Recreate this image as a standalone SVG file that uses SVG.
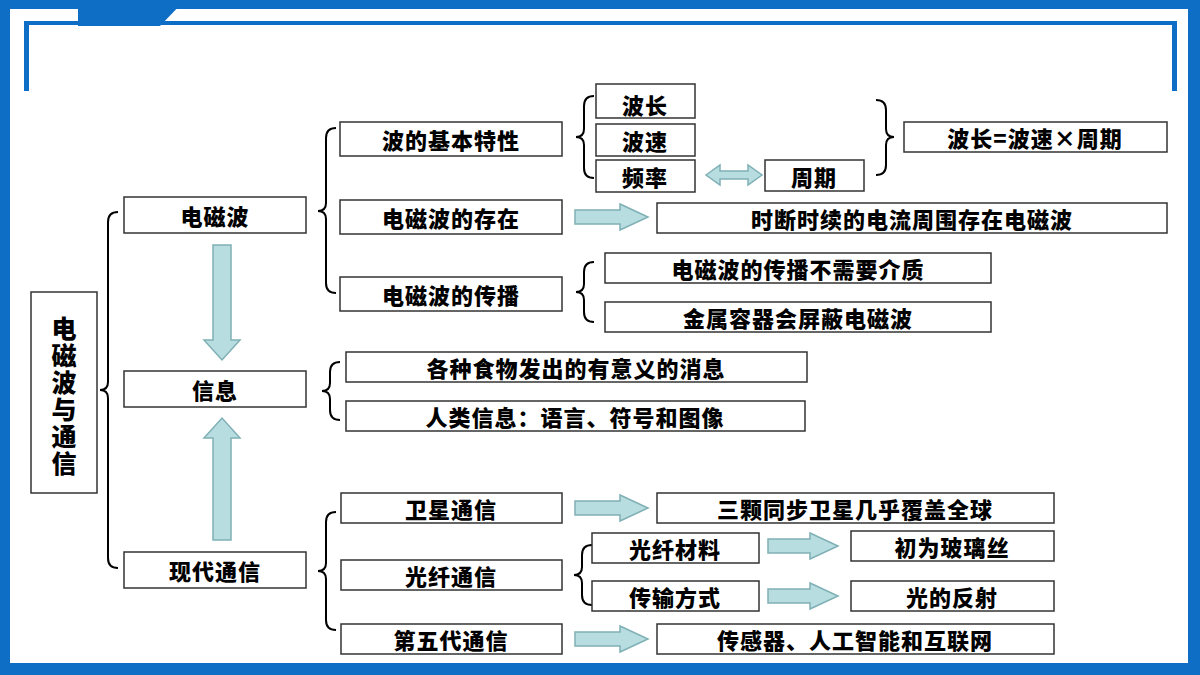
<svg xmlns="http://www.w3.org/2000/svg" width="1200" height="675" viewBox="0 0 1200 675">
<style>
.b{fill:#fff;stroke:#333;stroke-width:1.5}
.t{font-family:"Noto Sans CJK SC","Liberation Sans",sans-serif;font-weight:900;font-size:22px;letter-spacing:1px;fill:#000;text-anchor:middle;dominant-baseline:central}
.v{font-size:25px;letter-spacing:0}
.br{fill:none;stroke:#000;stroke-width:2}
.ar{fill:#b8dde0;stroke:#7fb0b5;stroke-width:1.5}
</style>
<rect width="1200" height="675" fill="#fff"/>
<g id="frame" fill="#0e6ec6">
<rect x="0" y="0" width="1200" height="9"/>
<rect x="0" y="0" width="10" height="675"/>
<rect x="1188" y="0" width="12" height="675"/>
<rect x="0" y="663" width="1200" height="12"/>
<rect x="24" y="21" width="1152" height="4"/>
<rect x="24" y="21" width="5" height="70"/>
<rect x="1172" y="21" width="5" height="70"/>
<path d="M78 0 H185 L160 26 H78 Z"/>
</g>
<g id="connectors">
<path class="br" d="M118 212 Q108 212 108 222 L108 382 Q108 390 100 390 Q108 390 108 398 L108 558 Q108 568 118 568"/>
<path class="br" d="M336 128 Q326 128 326 138 L326 203 Q326 211 318 211 Q326 211 326 219 L326 283 Q326 293 336 293"/>
<path class="br" d="M594 96 Q584 96 584 106 L584 129 Q584 137 576 137 Q584 137 584 145 L584 168 Q584 178 594 178"/>
<path class="br" d="M876 100 Q886 100 886 110 L886 129 Q886 137 894 137 Q886 137 886 145 L886 165 Q886 175 876 175"/>
<path class="br" d="M594 262 Q584 262 584 272 L584 284 Q584 292 576 292 Q584 292 584 300 L584 312 Q584 322 594 322"/>
<path class="br" d="M340 362 Q330 362 330 372 L330 383 Q330 391 322 391 Q330 391 330 399 L330 410 Q330 420 340 420"/>
<path class="br" d="M336 512 Q326 512 326 522 L326 563 Q326 571 318 571 Q326 571 326 579 L326 620 Q326 630 336 630"/>
<path class="br" d="M592 545 Q582 545 582 555 L582 567 Q582 575 574 575 Q582 575 582 583 L582 595 Q582 605 592 605"/>
<path class="ar" d="M213 245 H231 V340 H240 L222 360 L204 340 H213 Z"/>
<path class="ar" d="M213 540 H231 V438 H240 L222 418 L204 438 H213 Z"/>
<path class="ar" d="M706 175 L720 165 V171 H748 V165 L762 175 L748 185 V179 H720 V185 Z"/>
<path class="ar" d="M575 210 H620 V204 L648 217 L620 230 V224 H575 Z"/>
<path class="ar" d="M575 501 H620 V495 L648 508 L620 521 V515 H575 Z"/>
<path class="ar" d="M575 632 H620 V626 L648 639 L620 652 V646 H575 Z"/>
<path class="ar" d="M768 539 H810 V533 L838 546 L810 559 V553 H768 Z"/>
<path class="ar" d="M768 589 H810 V583 L838 596 L810 609 V603 H768 Z"/>
</g>
<g id="root"><rect class="b" x="31" y="292" width="66" height="201"/>
<text class="t v" x="64" y="327">电</text><text class="t v" x="64" y="354">磁</text><text class="t v" x="64" y="381">波</text><text class="t v" x="64" y="408">与</text><text class="t v" x="64" y="435">通</text><text class="t v" x="64" y="462">信</text></g>
<g id="n1"><rect class="b" x="124" y="197" width="182" height="36"/><text class="t" x="215" y="215">电磁波</text></g>
<g id="n2"><rect class="b" x="124" y="371" width="182" height="36"/><text class="t" x="215" y="389">信息</text></g>
<g id="n3"><rect class="b" x="124" y="552" width="182" height="36"/><text class="t" x="215" y="570">现代通信</text></g>
<g id="n4"><rect class="b" x="340" y="122" width="222" height="34"/><text class="t" x="451" y="139">波的基本特性</text></g>
<g id="n5"><rect class="b" x="340" y="200" width="222" height="34"/><text class="t" x="451" y="217">电磁波的存在</text></g>
<g id="n6"><rect class="b" x="340" y="277" width="222" height="34"/><text class="t" x="451" y="294">电磁波的传播</text></g>
<g id="n7"><rect class="b" x="596" y="84" width="99" height="34"/><text class="t" x="645" y="104">波长</text></g>
<g id="n8"><rect class="b" x="596" y="124" width="99" height="32"/><text class="t" x="645" y="140">波速</text></g>
<g id="n9"><rect class="b" x="596" y="160" width="99" height="32"/><text class="t" x="645" y="176">频率</text></g>
<g id="n10"><rect class="b" x="765" y="160" width="99" height="31"/><text class="t" x="814" y="176">周期</text></g>
<g id="n11"><rect class="b" x="904" y="122" width="263" height="30"/><text class="t" x="1035" y="137">波长=波速×周期</text></g>
<g id="n12"><rect class="b" x="657" y="203" width="510" height="30"/><text class="t" x="912" y="218">时断时续的电流周围存在电磁波</text></g>
<g id="n13"><rect class="b" x="605" y="253" width="386" height="30"/><text class="t" x="798" y="268">电磁波的传播不需要介质</text></g>
<g id="n14"><rect class="b" x="605" y="302" width="386" height="30"/><text class="t" x="798" y="317">金属容器会屏蔽电磁波</text></g>
<g id="n15"><rect class="b" x="346" y="352" width="461" height="30"/><text class="t" x="576" y="367">各种食物发出的有意义的消息</text></g>
<g id="n16"><rect class="b" x="346" y="401" width="459" height="30"/><text class="t" x="575" y="416">人类信息：语言、符号和图像</text></g>
<g id="n17"><rect class="b" x="341" y="493" width="221" height="30"/><text class="t" x="451" y="508">卫星通信</text></g>
<g id="n18"><rect class="b" x="341" y="560" width="221" height="30"/><text class="t" x="451" y="575">光纤通信</text></g>
<g id="n19"><rect class="b" x="341" y="624" width="221" height="30"/><text class="t" x="451" y="639">第五代通信</text></g>
<g id="n20"><rect class="b" x="657" y="493" width="397" height="30"/><text class="t" x="855" y="508">三颗同步卫星几乎覆盖全球</text></g>
<g id="n21"><rect class="b" x="592" y="533" width="167" height="30"/><text class="t" x="675" y="548">光纤材料</text></g>
<g id="n22"><rect class="b" x="592" y="581" width="167" height="30"/><text class="t" x="675" y="596">传输方式</text></g>
<g id="n23"><rect class="b" x="851" y="531" width="203" height="30"/><text class="t" x="952" y="546">初为玻璃丝</text></g>
<g id="n24"><rect class="b" x="851" y="581" width="203" height="30"/><text class="t" x="952" y="596">光的反射</text></g>
<g id="n25"><rect class="b" x="657" y="624" width="397" height="30"/><text class="t" x="855" y="639">传感器、人工智能和互联网</text></g>
</svg>
